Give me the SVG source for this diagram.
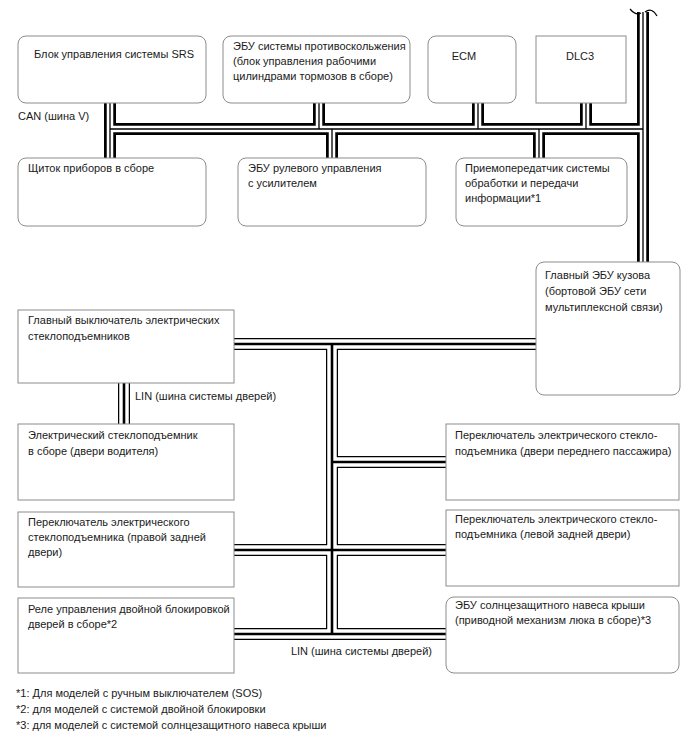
<svg xmlns="http://www.w3.org/2000/svg" xmlns:xlink="http://www.w3.org/1999/xlink" width="688" height="755" viewBox="0 0 688 755">
<style>
  .box { fill: #ffffff; stroke: #8c8c8c; stroke-width: 1; }
  text { font-family: "Liberation Sans", Arial, sans-serif; font-size: 11px; fill: #1a1a1a; }
  .mid { text-anchor: middle; }
  .end { text-anchor: end; }
  .can-o { fill: none; stroke: #000; stroke-width: 12; }
  .can-w { fill: none; stroke: #fff; stroke-width: 6.5; }
  .can-c { fill: none; stroke: #000; stroke-width: 1.3; }
  .lin-o { fill: none; stroke: #000; stroke-width: 12; }
  .lin-w { fill: none; stroke: #fff; stroke-width: 9.5; }
  .lin-c { fill: none; stroke: #000; stroke-width: 2.6; }
  .brk { fill: none; stroke: #000; stroke-width: 1.2; }
</style>
<defs>
  <path id="canPath" d="M110,103 V158 M110,129 H643 M643,12 V262 M319,103 V129 M478,103 V129 M586,103 V129 M332,129 V158 M539,129 V158"/>
  <path id="linPath" d="M234,344 H536 M332,344 V634 M332,462 H446 M234,550 H446 M234,634 H446 M124,383 V424"/>
</defs>

<g id="connectors">
  <use xlink:href="#canPath" class="can-o"/>
  <use xlink:href="#canPath" class="can-w"/>
  <use xlink:href="#canPath" class="can-c"/>
  <use xlink:href="#linPath" class="lin-o"/>
  <use xlink:href="#linPath" class="lin-w"/>
  <use xlink:href="#linPath" class="lin-c"/>
  <path class="brk" d="M630,9 Q636,16 641,13 M645,12 Q652,7 657,16"/>
  <text x="18" y="120">CAN (шина V)</text>
  <text x="135" y="400">LIN (шина системы дверей)</text>
  <text x="432" y="655" class="end">LIN (шина системы дверей)</text>
</g>

<g id="srs">
  <rect class="box" x="18" y="36" width="188" height="67" rx="8"/>
  <text x="34" y="58">Блок управления системы SRS</text>
</g>
<g id="abs">
  <rect class="box" x="223" y="36" width="187" height="67" rx="8"/>
  <text x="233" y="50">ЭБУ системы противоскольжения</text>
  <text x="233" y="65">(блок управления рабочими</text>
  <text x="233" y="80">цилиндрами тормозов в сборе)</text>
</g>
<g id="ecm">
  <rect class="box" x="428" y="36" width="88" height="67" rx="8"/>
  <text x="464" y="60" class="mid">ECM</text>
</g>
<g id="dlc3">
  <rect class="box" x="536" y="36" width="90" height="67"/>
  <text x="580" y="60" class="mid">DLC3</text>
</g>

<g id="meter">
  <rect class="box" x="18" y="158" width="188" height="68" rx="8"/>
  <text x="28" y="172">Щиток приборов в сборе</text>
</g>
<g id="eps">
  <rect class="box" x="238" y="158" width="188" height="68" rx="8"/>
  <text x="248" y="172">ЭБУ рулевого управления</text>
  <text x="248" y="187">с усилителем</text>
</g>
<g id="transceiver">
  <rect class="box" x="456" y="158" width="171" height="68" rx="8"/>
  <text x="465" y="172">Приемопередатчик системы</text>
  <text x="465" y="187">обработки и передачи</text>
  <text x="465" y="202">информации*1</text>
</g>

<g id="main-body">
  <rect class="box" x="536" y="262" width="144" height="133" rx="8"/>
  <text x="545" y="279">Главный ЭБУ кузова</text>
  <text x="545" y="295">(бортовой ЭБУ сети</text>
  <text x="545" y="311">мультиплексной связи)</text>
</g>

<g id="master-switch">
  <rect class="box" x="18" y="310" width="216" height="73"/>
  <text x="28" y="324">Главный выключатель электрических</text>
  <text x="28" y="340">стеклоподъемников</text>
</g>
<g id="driver-window">
  <rect class="box" x="18" y="424" width="216" height="76"/>
  <text x="28" y="439">Электрический стеклоподъемник</text>
  <text x="28" y="455">в сборе (двери водителя)</text>
</g>
<g id="rr-switch">
  <rect class="box" x="18" y="512" width="216" height="75"/>
  <text x="28" y="526">Переключатель электрического</text>
  <text x="28" y="541">стеклоподъемника (правой задней</text>
  <text x="28" y="556">двери)</text>
</g>
<g id="double-lock">
  <rect class="box" x="18" y="598" width="216" height="75"/>
  <text x="28" y="613">Реле управления двойной блокировкой</text>
  <text x="28" y="628">дверей в сборе*2</text>
</g>

<g id="fp-switch">
  <rect class="box" x="446" y="424" width="233" height="76"/>
  <text x="455" y="439">Переключатель электрического стекло-</text>
  <text x="455" y="455">подъемника (двери переднего пассажира)</text>
</g>
<g id="rl-switch">
  <rect class="box" x="446" y="510" width="233" height="76"/>
  <text x="455" y="523">Переключатель электрического стекло-</text>
  <text x="455" y="538">подъемника (левой задней двери)</text>
</g>
<g id="sunroof">
  <rect class="box" x="446" y="597" width="233" height="76" rx="8"/>
  <text x="455" y="609">ЭБУ солнцезащитного навеса крыши</text>
  <text x="455" y="624">(приводной механизм люка в сборе)*3</text>
</g>

<g id="notes">
  <text x="16" y="697">*1: Для моделей с ручным выключателем (SOS)</text>
  <text x="16" y="713">*2: для моделей с системой двойной блокировки</text>
  <text x="16" y="729">*3: для моделей с системой солнцезащитного навеса крыши</text>
</g>
</svg>
